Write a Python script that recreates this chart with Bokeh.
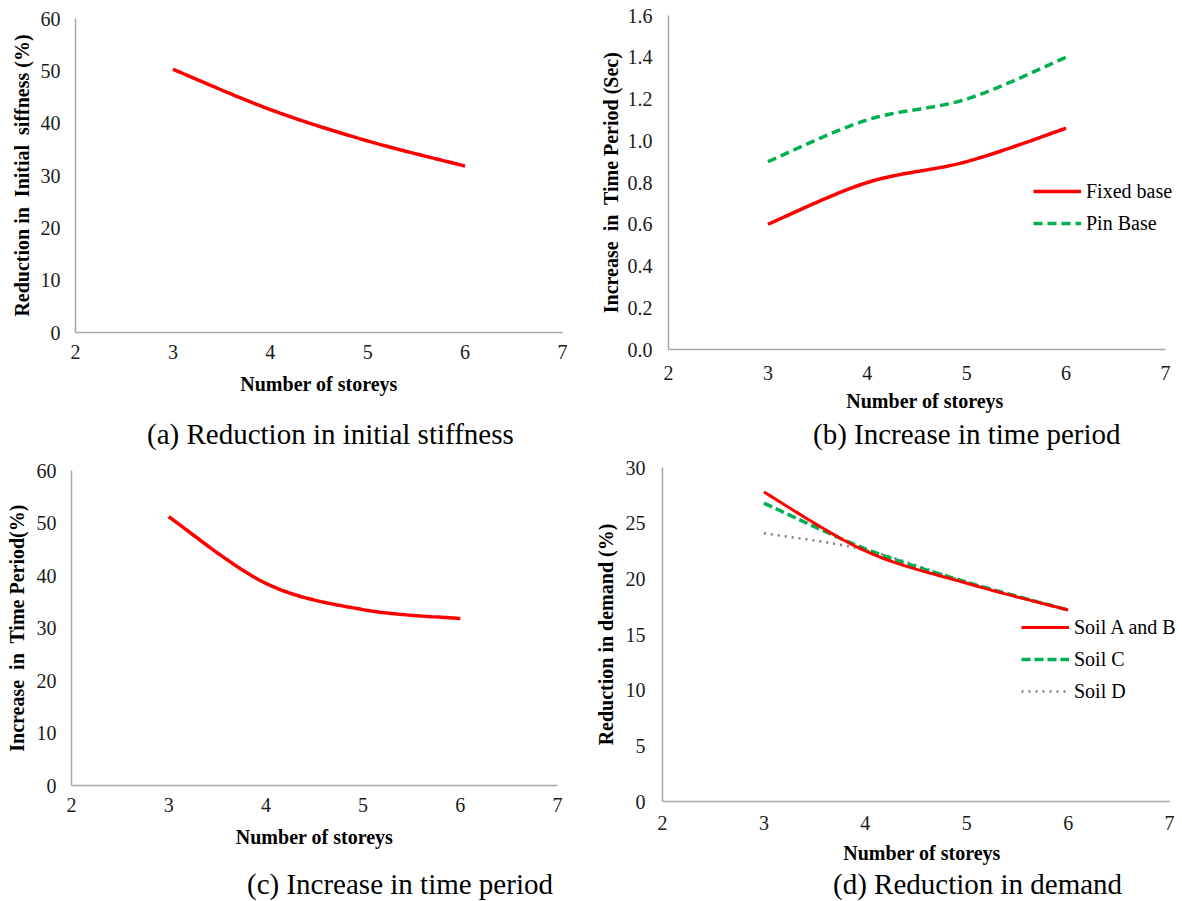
from bokeh.plotting import figure
from bokeh.models import Range1d, FixedTicker, PrintfTickFormatter, Legend, LegendItem, Div
from bokeh.layouts import column, row
from bokeh.embed import file_html
from bokeh.resources import INLINE

# ---------------- data ----------------
storeys = [3, 4, 5, 6]
stiffness_reduction = [50.3, 42.6, 36.6, 31.8]
period_fixed = [0.60, 0.80, 0.90, 1.06]
period_pin = [0.90, 1.10, 1.20, 1.40]
period_increase = [51.2, 38.5, 33.5, 31.8]
demand_ab = [27.8, 22.5, 19.6, 17.2]
demand_c = [26.8, 22.7, 19.7, 17.2]
demand_d = [24.1, 22.6, 19.7, 17.2]
x_ticks = [2, 3, 4, 5, 6, 7]
captions = ["(a) Reduction in initial stiffness", "(b) Increase in time period",
            "(c) Increase in time period", "(d) Reduction in demand"]

SERIF = "Liberation Serif"
RED = "#ff0000"
GREEN = "#00b050"
GREY = "#7f7f7f"
NB = "\u00a0"


def smooth(xs, ys, n=30):
    """Excel-style smoothed line (Catmull-Rom bezier) through the given points."""
    px, py = [], []
    m = len(xs)
    for i in range(m - 1):
        x0, y0 = xs[i], ys[i]
        x3, y3 = xs[i + 1], ys[i + 1]
        xa, ya = (xs[i - 1], ys[i - 1]) if i > 0 else (x0, y0)
        xb, yb = (xs[i + 2], ys[i + 2]) if i + 2 < m else (x3, y3)
        x1, y1 = x0 + (x3 - xa) / 6.0, y0 + (y3 - ya) / 6.0
        x2, y2 = x3 - (xb - x0) / 6.0, y3 - (yb - y0) / 6.0
        for k in range(n + (1 if i == m - 2 else 0)):
            t = k / n
            a, b, c, d = (1 - t) ** 3, 3 * (1 - t) ** 2 * t, 3 * (1 - t) * t ** 2, t ** 3
            px.append(a * x0 + b * x1 + c * x2 + d * x3)
            py.append(a * y0 + b * y1 + c * y2 + d * y3)
    return px, py


def make_fig(w, h, xmax, ymax, yticks, ylabel, borders, fmt=None,
             tick_standoff=(12, 15), label_standoff=(11, 6)):
    left, right, top, bottom = borders
    p = figure(width=w, height=h, output_backend="svg", toolbar_location=None,
               x_range=Range1d(2, xmax), y_range=Range1d(0, ymax),
               min_border_left=left, min_border_right=right,
               min_border_top=top, min_border_bottom=bottom)
    p.frame_align = False
    p.outline_line_color = None
    p.xgrid.visible = False
    p.ygrid.visible = False
    p.xaxis.ticker = FixedTicker(ticks=x_ticks)
    p.xaxis.bounds = (2, 7)
    p.yaxis.ticker = FixedTicker(ticks=yticks)
    if fmt:
        p.yaxis.formatter = PrintfTickFormatter(format=fmt)
    for ax in (p.xaxis, p.yaxis):
        ax.axis_line_color = "#a6a6a6"
        ax.axis_line_width = 1.5
        ax.major_tick_line_color = None
        ax.minor_tick_line_color = None
        ax.major_tick_out = 0
        ax.major_tick_in = 0
        ax.major_label_text_font = SERIF
        ax.major_label_text_font_size = "20px"
        ax.major_label_text_color = "#1a1a1a"
        ax.axis_label_text_font = SERIF
        ax.axis_label_text_font_size = "20px"
        ax.axis_label_text_font_style = "bold"
        ax.axis_label_text_color = "black"
    p.xaxis.major_label_standoff = tick_standoff[0]
    p.yaxis.major_label_standoff = tick_standoff[1]
    p.xaxis.axis_label_standoff = label_standoff[0]
    p.yaxis.axis_label_standoff = label_standoff[1]
    p.xaxis.axis_label = "Number of storeys"
    p.yaxis.axis_label = ylabel
    return p


def caption_div(text, pad_left, h):
    return Div(text=text, width=591, height=h,
               styles={"font-family": "'Liberation Serif', serif", "font-size": "29px",
                       "line-height": f"{h}px", "padding-left": f"{pad_left}px",
                       "color": "black", "white-space": "nowrap", "margin": "0"})


def add_legend(p, items, x, y, spacing):
    lg = Legend(items=items, location=(x, y), orientation="vertical",
                label_text_font=SERIF, label_text_font_size="20px", label_text_color="black",
                glyph_width=48, glyph_height=24, label_height=24, label_standoff=5,
                spacing=spacing, padding=0, margin=0,
                border_line_color=None, background_fill_alpha=0)
    p.add_layout(lg, "center")


TOP_H = 416
CAP1_H = 36
BOT_H = 415
CAP2_H = 34

# (a)
pa = make_fig(591, TOP_H, 7, 60, [0, 10, 20, 30, 40, 50, 60],
              "Reduction in" + NB + " Initial" + NB + " siffness (%)",
              (75, 29, 18, 84), label_standoff=(11, 5))
xa, ya = smooth(storeys, stiffness_reduction)
pa.line(xa, ya, line_color=RED, line_width=3.5)

# (b)
pb = make_fig(591, TOP_H, 7.161, 1.6, [0.0, 0.2, 0.4, 0.6, 0.8, 1.0, 1.2, 1.4, 1.6],
              "Increase" + NB + " in" + NB + " Time Period (Sec)",
              (77, 1, 15, 67), fmt="%.1f", tick_standoff=(16, 16), label_standoff=(7, 3))
xb1, yb1 = smooth(storeys, period_fixed)
xb2, yb2 = smooth(storeys, period_pin)
rb1 = pb.line(xb1, yb1, line_color=RED, line_width=3.5)
rb2 = pb.line(xb2, yb2, line_color=GREEN, line_width=3.5, line_dash="9 5")
add_legend(pb, [LegendItem(label="Fixed base", renderers=[rb1]),
                LegendItem(label="Pin Base", renderers=[rb2])], 365, 114, 8)

# (c)
pc = make_fig(591, BOT_H, 7, 60, [0, 10, 20, 30, 40, 50, 60],
              "Increase" + NB + " in" + NB + " Time Period(%)",
              (71, 34, 18, 82))
xc, yc = smooth(storeys, period_increase)
pc.line(xc, yc, line_color=RED, line_width=3.5)

# (d)
pd_ = make_fig(591, BOT_H, 7.118, 30, [0, 5, 10, 15, 20, 25, 30], "Reduction in demand (%)",
               (69, 1, 15, 66), tick_standoff=(14, 17), label_standoff=(9, 6))
xd1, yd1 = smooth(storeys, demand_ab)
xd2, yd2 = smooth(storeys, demand_c)
xd3, yd3 = smooth(storeys, demand_d)
rd3 = pd_.line(xd3, yd3, line_color=GREY, line_width=2.5, line_dash="2 5")
rd2 = pd_.line(xd2, yd2, line_color=GREEN, line_width=3.5, line_dash="9 4")
rd1 = pd_.line(xd1, yd1, line_color=RED, line_width=3)
add_legend(pd_, [LegendItem(label="Soil A and B", renderers=[rd1]),
                 LegendItem(label="Soil C", renderers=[rd2]),
                 LegendItem(label="Soil D", renderers=[rd3])], 359, 98, 8)

ca = caption_div(captions[0], 147, CAP1_H)
cb = caption_div(captions[1], 222, CAP1_H)
cc = caption_div(captions[2], 247, CAP2_H)
cd = caption_div(captions[3], 242, CAP2_H)

layout = column(row(pa, pb), row(ca, cb), row(pc, pd_), row(cc, cd))
open("out.html", "w").write(file_html(layout, INLINE))
